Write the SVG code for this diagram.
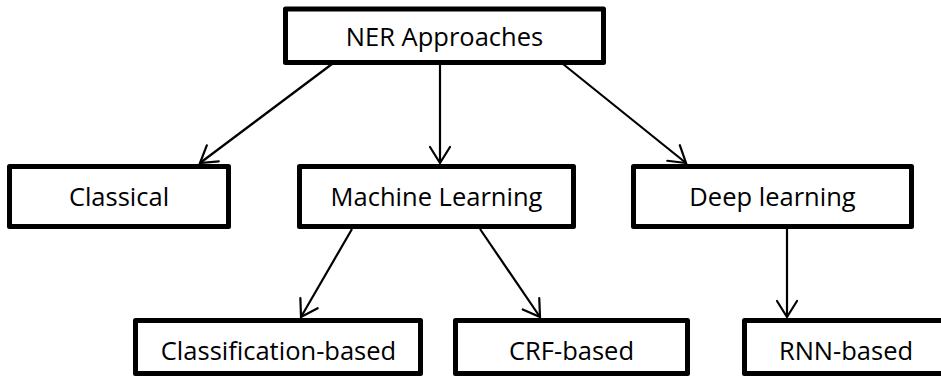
<svg xmlns="http://www.w3.org/2000/svg" width="941" height="377" viewBox="0 0 941 377">
  <style>
    .box { fill: #ffffff; stroke: #000000; stroke-width: 5; stroke-linejoin: round; }
    .label { font-family: "Open Sans", "Liberation Sans", sans-serif; font-size: 25.5px; fill: #000000; text-anchor: middle; }
    .edge { fill: none; stroke: #000000; stroke-width: 2.2; marker-end: url(#arrow); }
  </style>
  <defs>
    <marker id="arrow" markerUnits="userSpaceOnUse" markerWidth="24" markerHeight="24" viewBox="-20 -12 24 24" refX="0" refY="0" orient="auto">
      <path d="M-16,-10 L0,0 L-16,10" fill="none" stroke="#000000" stroke-width="2.2" stroke-linecap="round" stroke-linejoin="miter"/>
    </marker>
  </defs>

  <g id="connectors">
    <line class="edge" x1="332" y1="64" x2="200" y2="163"/>
    <line class="edge" x1="440" y1="64" x2="440" y2="163"/>
    <line class="edge" x1="563" y1="64" x2="686" y2="163"/>
    <line class="edge" x1="352" y1="229" x2="301" y2="317"/>
    <line class="edge" x1="480" y1="229" x2="540" y2="317"/>
    <line class="edge" x1="787" y1="229" x2="787" y2="317"/>
  </g>

  <g id="ner-approaches">
    <rect class="box" x="285.5" y="9" width="318" height="53.5"/>
    <text class="label" x="444.5" y="46">NER Approaches</text>
  </g>

  <g id="classical">
    <rect class="box" x="9.5" y="166.5" width="219" height="60"/>
    <text class="label" x="119" y="206">Classical</text>
  </g>

  <g id="machine-learning">
    <rect class="box" x="299.5" y="166.5" width="274" height="60"/>
    <text class="label" x="436.5" y="206">Machine Learning</text>
  </g>

  <g id="deep-learning">
    <rect class="box" x="633.5" y="166.5" width="278" height="60"/>
    <text class="label" x="772.5" y="206">Deep learning</text>
  </g>

  <g id="classification-based">
    <rect class="box" x="135.5" y="320.5" width="285" height="53"/>
    <text class="label" x="278.5" y="360">Classification-based</text>
  </g>

  <g id="crf-based">
    <rect class="box" x="455.5" y="320.5" width="232" height="53"/>
    <text class="label" x="571.5" y="360">CRF-based</text>
  </g>

  <g id="rnn-based">
    <rect class="box" x="744.5" y="320.5" width="206" height="53"/>
    <text class="label" x="846" y="360">RNN-based</text>
  </g>
</svg>
